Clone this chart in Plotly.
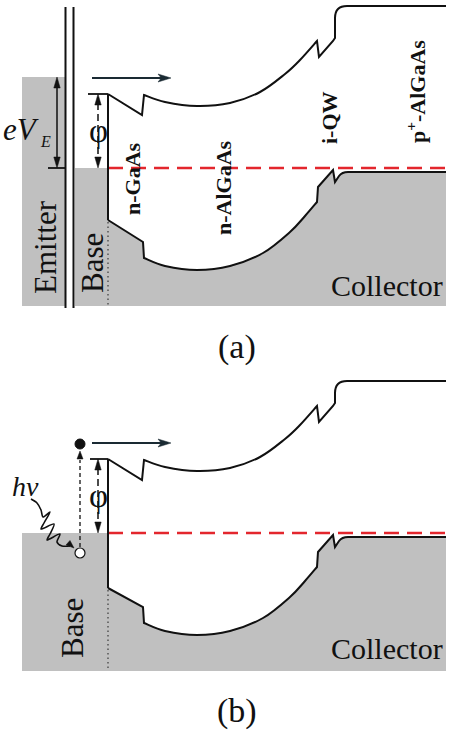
import plotly.graph_objects as go

W, H = 453, 731
GRAY = "#c0c0c0"
RED = "#e3262d"
INK = "#111111"
ARROW_INK = "#1a2a33"
SERIF = "Liberation Serif, Times New Roman, serif"

# ---------------- panel (a) outlines (picture pixels) ----------------
cb_a = [
    ("L", [(108, 94), (142, 115), (144, 95)]),
    ("S", [(144, 95), (165, 102), (197, 106), (230, 103), (260, 92), (285, 74), (300, 60), (317, 41)]),
    ("L", [(317, 41), (319, 57), (333, 41), (335, 38), (335, 18)]),
    ("Q", [(335, 18), (335, 6), (347, 6)]),
    ("L", [(347, 6), (446, 6)]),
]
vb_a = [
    ("L", [(108, 220), (143, 242), (144, 258)]),
    ("S", [(144, 258), (165, 266), (197, 270), (230, 266), (263, 253), (290, 232), (305, 216), (317, 202)]),
    ("L", [(317, 202), (318, 187), (333, 170), (335, 182), (339, 176)]),
    ("Q", [(339, 176), (342, 172), (348, 172)]),
    ("L", [(348, 172), (446, 172)]),
]
gray_a_left = [(75, 168), (108, 168), (108, 220)]
gray_a_right = [(446, 172), (446, 306), (75, 306)]
emitter_rect = (22, 77, 65, 306)
fermi_a = (108, 446, 168)

# ---------------- panel (b) outlines ----------------
cb_b = [
    ("L", [(108, 459), (142, 480), (144, 460)]),
    ("S", [(144, 460), (165, 467), (197, 471), (230, 468), (260, 457), (285, 439), (300, 425), (317, 406)]),
    ("L", [(317, 406), (319, 422), (333, 406), (335, 403), (335, 393)]),
    ("Q", [(335, 393), (335, 381), (347, 381)]),
    ("L", [(347, 381), (446, 381)]),
]
vb_b = [
    ("L", [(108, 588), (143, 607), (144, 623)]),
    ("S", [(144, 623), (165, 631), (197, 635), (230, 631), (263, 618), (290, 597), (305, 581), (317, 567)]),
    ("L", [(317, 567), (318, 552), (333, 535), (335, 547), (339, 541)]),
    ("Q", [(339, 541), (342, 537), (348, 537)]),
    ("L", [(348, 537), (446, 537)]),
]
gray_b_left = [(22, 533), (108, 533), (108, 588)]
gray_b_right = [(446, 537), (446, 671), (22, 671)]
fermi_b = (108, 446, 533)

photon = [(31, 499), (37, 503), (41, 510), (43, 517), (50, 512), (44, 523), (41, 529),
          (54, 524), (50, 534), (47, 540), (60, 534), (57, 542), (62, 546), (70, 546)]


def seg_path(segments, start=True):
    d = ""
    first = segments[0][1][0]
    if start:
        d = f"M{first[0]},{first[1]}"
    for kind, pts in segments:
        if kind == "L":
            for p in pts[1:]:
                d += f" L{p[0]},{p[1]}"
        elif kind == "Q":
            d += f" Q{pts[1][0]},{pts[1][1]} {pts[2][0]},{pts[2][1]}"
        elif kind == "S":
            n = len(pts)
            for i in range(n - 1):
                p0 = pts[i - 1] if i > 0 else pts[i]
                p1 = pts[i]
                p2 = pts[i + 1]
                p3 = pts[i + 2] if i + 2 < n else pts[i + 1]
                c1 = (p1[0] + (p2[0] - p0[0]) / 6, p1[1] + (p2[1] - p0[1]) / 6)
                c2 = (p2[0] - (p3[0] - p1[0]) / 6, p2[1] - (p3[1] - p1[1]) / 6)
                d += f" C{c1[0]:.2f},{c1[1]:.2f} {c2[0]:.2f},{c2[1]:.2f} {p2[0]},{p2[1]}"
    return d


def poly_path(pts, close=False):
    d = f"M{pts[0][0]},{pts[0][1]}" + "".join(f" L{x},{y}" for x, y in pts[1:])
    return d + (" Z" if close else "")


shapes = []


def add_path(d, color=INK, width=2, fill=None, dash="solid", layer="above"):
    shp = dict(type="path", path=d, xref="x", yref="y", layer=layer,
               line=dict(color=color if width > 0 else "rgba(0,0,0,0)", width=width, dash=dash))
    if fill:
        shp["fillcolor"] = fill
    shapes.append(shp)


def add_line(x0, y0, x1, y1, color=INK, width=2, dash="solid"):
    shapes.append(dict(type="line", x0=x0, y0=y0, x1=x1, y1=y1, xref="x", yref="y",
                       line=dict(color=color, width=width, dash=dash)))


def head(tip, direction, length=11, half=3.2, color=INK, barb=False):
    tx, ty = tip
    dx, dy = direction
    bx, by = tx - dx * length, ty - dy * length
    px, py = -dy, dx
    p1 = (bx + px * half, by + py * half)
    p2 = (bx - px * half, by - py * half)
    if barb:
        m = (tx - dx * length * 0.75, ty - dy * length * 0.75)
        pts = [tip, p1, m, p2]
    else:
        pts = [tip, p1, p2]
    add_path(poly_path(pts, close=True), color=color, width=0.5, fill=color)


# ---- gray fills (below traces) ----
x0, y0, x1, y1 = emitter_rect
add_path(poly_path([(x0, y0), (x1, y0), (x1, y1), (x0, y1)], close=True), width=0, fill=GRAY, layer="below")
d = poly_path(gray_a_left) + seg_path(vb_a, start=False) + "".join(f" L{x},{y}" for x, y in gray_a_right[1:]) + " Z"
add_path(d, width=0, fill=GRAY, layer="below")
d = poly_path(gray_b_left) + seg_path(vb_b, start=False) + "".join(f" L{x},{y}" for x, y in gray_b_right[1:]) + " Z"
add_path(d, width=0, fill=GRAY, layer="below")

# ---- panel (a) lines ----
add_line(65.5, 7, 65.5, 308, width=2)
add_line(73.5, 7, 73.5, 308, width=2)
add_line(fermi_a[0], fermi_a[2], fermi_a[1], fermi_a[2], color=RED, width=2.5, dash="15px,8px")
add_path(seg_path(cb_a), width=2)
add_path(seg_path(vb_a), width=2)
add_line(108, 94, 108, 220, width=2)
add_line(88, 94, 108, 94, width=1.8)
add_line(108, 222, 108, 306, color="#444444", width=1.3, dash="1.5px,3px")
# eV_E arrow
add_line(48, 168, 65, 168, width=1.8)
add_line(57, 86, 57, 159, width=1.5)
head((57, 77), (0, -1))
head((57, 168), (0, 1))
# phi arrow (a)
add_line(98, 103, 98, 159, width=1.5, dash="7px,4px")
head((98, 94), (0, -1))
head((98, 168), (0, 1))
# horizontal arrow (a)
add_line(92, 78, 165, 78, color=ARROW_INK, width=1.8)
head((171, 78), (1, 0), length=13, half=4, color=ARROW_INK, barb=True)

# ---- panel (b) lines ----
add_line(fermi_b[0], fermi_b[2], fermi_b[1], fermi_b[2], color=RED, width=2.5, dash="15px,8px")
add_path(seg_path(cb_b), width=2)
add_path(seg_path(vb_b), width=2)
add_line(108, 459, 108, 588, width=2)
add_line(90, 459, 108, 459, width=1.8)
add_line(108, 590, 108, 671, color="#444444", width=1.3, dash="1.5px,3px")
# phi arrow (b)
add_line(98, 468, 98, 524, width=1.5, dash="7px,4px")
head((98, 459), (0, -1))
head((98, 533), (0, 1))
# horizontal arrow (b)
add_line(92, 443, 165, 443, color=ARROW_INK, width=1.8)
head((171, 443), (1, 0), length=13, half=4, color=ARROW_INK, barb=True)
# excitation arrow
add_line(80, 547, 80, 460, width=1.3, dash="4px,3px")
head((80, 451), (0, -1), length=8, half=3)
# photon squiggle
fig = go.Figure()
px_, py_ = zip(*photon)
fig.add_trace(go.Scatter(x=px_, y=py_, mode="lines", line=dict(color=INK, width=1.6, shape="spline", smoothing=0.8),
                         hoverinfo="skip", showlegend=False))
head((74, 548), (0.75, 0.66), length=8, half=3)
# carriers
shapes.append(dict(type="circle", xref="x", yref="y", x0=75, y0=439, x1=85, y1=449,
                   fillcolor=INK, line=dict(color=INK, width=1)))
shapes.append(dict(type="circle", xref="x", yref="y", x0=75, y0=548, x1=85, y1=558,
                   fillcolor="white", line=dict(color=INK, width=1.2)))

# ---------------- text ----------------
ann = []


def txt(x, y, s, size, angle=0, bold=False, italic=False, family=SERIF):
    if bold:
        s = f"<b>{s}</b>"
    if italic:
        s = f"<i>{s}</i>"
    ann.append(dict(x=x, y=y, xref="x", yref="y", text=s, showarrow=False, textangle=angle,
                    font=dict(family=family, size=size, color=INK), xanchor="center", yanchor="middle"))


txt(21, 129, "eV", 31, italic=True)
txt(45, 141, "E", 16, italic=True)
txt(98, 131, "φ", 33)
txt(132, 179, "n-GaAs", 22, angle=-90, bold=True)
txt(223, 188, "n-AlGaAs", 22, angle=-90, bold=True)
txt(329, 118, "i-QW", 22, angle=-90, bold=True)
txt(416, 92, "p<sup>+</sup>-AlGaAs", 22, angle=-90, bold=True)
txt(45, 247, "Emitter", 31, angle=-90)
txt(92, 263, "Base", 31, angle=-90)
txt(387, 285, "Collector", 30)
txt(237, 347, "(a)", 34)

txt(25, 486, "hν", 28, italic=True)
txt(98, 496, "φ", 33)
txt(72, 628, "Base", 31, angle=-90)
txt(387, 648, "Collector", 30)
txt(237, 711, "(b)", 34)

fig.update_layout(
    width=W, height=H, margin=dict(l=0, r=0, t=0, b=0),
    paper_bgcolor="white", plot_bgcolor="white",
    xaxis=dict(range=[0, W], visible=False, fixedrange=True),
    yaxis=dict(range=[H, 0], visible=False, fixedrange=True),
    shapes=shapes, annotations=ann, showlegend=False,
)
fig.write_html("out.html")
